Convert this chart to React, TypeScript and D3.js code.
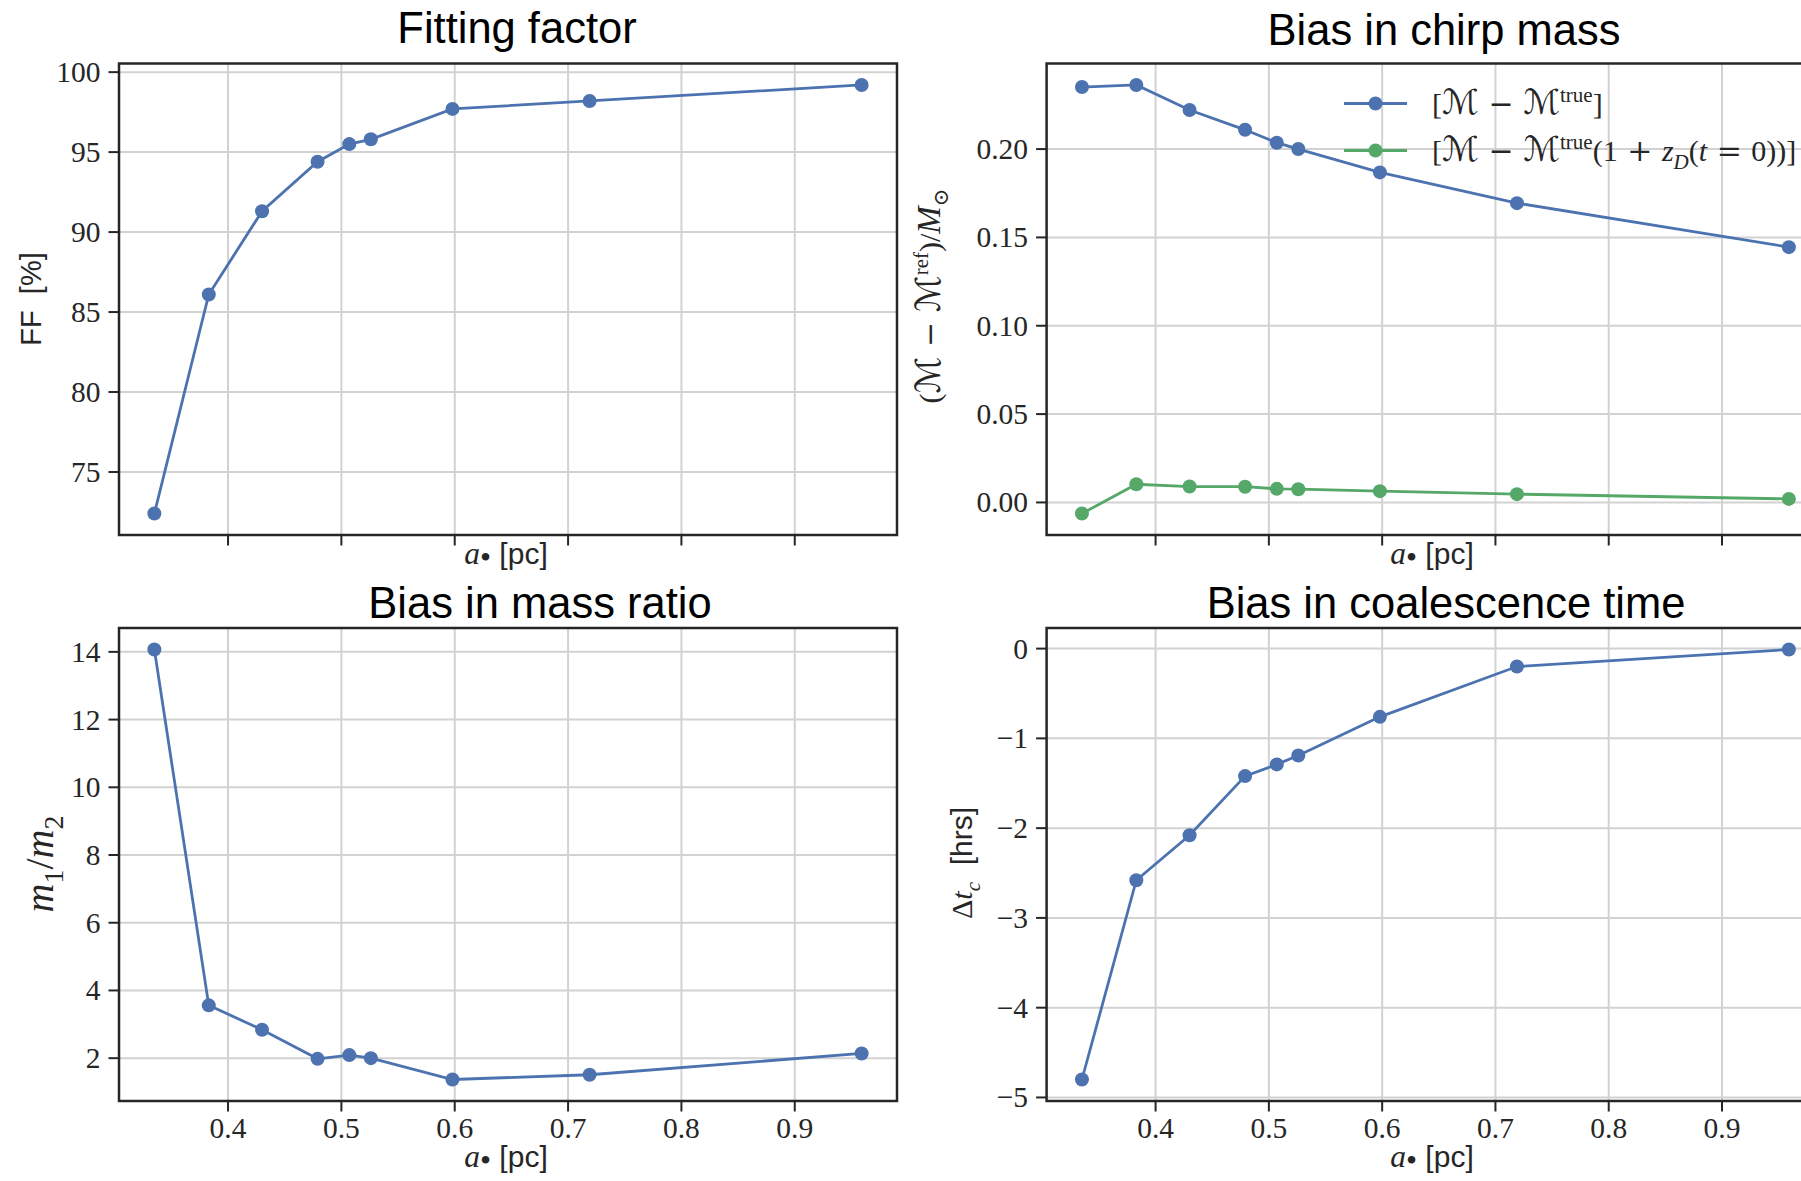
import React from 'react';
import * as d3 from 'd3';

// ---------- data ----------
const aPc = [0.335, 0.383, 0.430, 0.479, 0.507, 0.526, 0.598, 0.719, 0.959];
const fittingFactor = [72.4, 86.1, 91.3, 94.4, 95.5, 95.8, 97.7, 98.2, 99.2];
const chirpBias = [0.2351, 0.2363, 0.2221, 0.2109, 0.2036, 0.2000, 0.1868, 0.1694, 0.1445];
const chirpBiasRedshift = [-0.0063, 0.0103, 0.0090, 0.0089, 0.0077, 0.0075, 0.0064, 0.0047, 0.0020];
const massRatio = [14.07, 3.56, 2.84, 1.98, 2.09, 2.0, 1.37, 1.51, 2.14];
const tcBias = [-4.80, -2.58, -2.08, -1.42, -1.29, -1.19, -0.76, -0.20, -0.01];

const xTicks = [0.4, 0.5, 0.6, 0.7, 0.8, 0.9];
const ffTicks = [75, 80, 85, 90, 95, 100];
const chirpTicks = [0, 0.05, 0.1, 0.15, 0.2];
const ratioTicks = [2, 4, 6, 8, 10, 12, 14];
const tcTicks = [0, -1, -2, -3, -4, -5];

const titles = ['Fitting factor', 'Bias in chirp mass', 'Bias in mass ratio', 'Bias in coalescence time'];

// ---------- style ----------
const BLUE = '#4C72B0';
const GREEN = '#55A868';
const DARK = '#262626';
const GRID = '#d2d2d2';
const SERIF = "'Liberation Serif', 'Times New Roman', serif";
const SANS = "'Liberation Sans', Arial, Helvetica, sans-serif";
const CAL = "'DejaVu Serif', 'DejaVu Sans', serif";

type Seg = { t: string; f?: 'rm' | 'it' | 'sf' | 'cal' | 'op'; s?: 'sup' | 'sub'; k?: number; d?: number };

function famOf(f?: string) {
  if (f === 'sf') return SANS;
  if (f === 'cal' || f === 'op') return CAL;
  return SERIF;
}

function Rich({ segs, size, ...rest }: { segs: Seg[]; size: number; [k: string]: any }) {
  let cur = 0;
  return (
    <text fontSize={size} fill={DARK} {...rest}>
      {segs.map((s, i) => {
        const target =
          s.d !== undefined ? size * s.d : s.s === 'sup' ? -size * 0.4 : s.s === 'sub' ? size * 0.25 : 0;
        const dy = target - cur;
        cur = target;
        const fs = s.s ? size * (s.k ?? 0.7) : size * (s.k ?? 1);
        return (
          <tspan
            key={i}
            dy={dy}
            fontFamily={famOf(s.f)}
            fontStyle={s.f === 'it' ? 'italic' : 'normal'}
            fontSize={fs}
            style={{ whiteSpace: 'pre' }}
          >
            {s.t}
          </tspan>
        );
      })}
    </text>
  );
}

function pad(vals: number[]) {
  const [lo, hi] = d3.extent(vals) as [number, number];
  const m = (hi - lo) * 0.05;
  return [lo - m, hi + m];
}

type Series = { y: number[]; color: string };

function Panel(props: {
  x0: number; x1: number; y0: number; y1: number;
  series: Series[]; yTicks: number[]; yFmt: (v: number) => string;
  showXLabels: boolean;
}) {
  const { x0, x1, y0, y1, series, yTicks, yFmt, showXLabels } = props;
  const x = d3.scaleLinear().domain(pad(aPc)).range([x0, x1]);
  const allY = series.flatMap((s) => s.y);
  const y = d3.scaleLinear().domain(pad(allY)).range([y1, y0]);
  const line = d3.line<number>().x((_, i) => x(aPc[i])).y((v) => y(v));
  const tickLen = 10.5;
  return (
    <g>
      {xTicks.map((t) => (
        <line key={'gx' + t} x1={x(t)} x2={x(t)} y1={y0} y2={y1} stroke={GRID} strokeWidth={2} />
      ))}
      {yTicks.map((t) => (
        <line key={'gy' + t} x1={x0} x2={x1} y1={y(t)} y2={y(t)} stroke={GRID} strokeWidth={2} />
      ))}
      {series.map((s, si) => (
        <g key={si}>
          <path d={line(s.y) || ''} fill="none" stroke={s.color} strokeWidth={2.8} />
          {s.y.map((v, i) => (
            <circle key={i} cx={x(aPc[i])} cy={y(v)} r={7} fill={s.color} />
          ))}
        </g>
      ))}
      <rect x={x0} y={y0} width={x1 - x0} height={y1 - y0} fill="none" stroke={DARK} strokeWidth={2.5} />
      {xTicks.map((t) => (
        <g key={'tx' + t}>
          <line x1={x(t)} x2={x(t)} y1={y1} y2={y1 + tickLen} stroke={DARK} strokeWidth={2} />
          {showXLabels && (
            <text x={x(t)} y={y1 + 37} textAnchor="middle" fontFamily={SERIF} fontSize={29.5} fill={DARK}>
              {d3.format('.1f')(t)}
            </text>
          )}
        </g>
      ))}
      {yTicks.map((t) => (
        <g key={'ty' + t}>
          <line x1={x0 - tickLen} x2={x0} y1={y(t)} y2={y(t)} stroke={DARK} strokeWidth={2} />
          <text x={x0 - 18.5} y={y(t) + 10} textAnchor="end" fontFamily={SERIF} fontSize={29.5} fill={DARK}>
            {yFmt(t)}
          </text>
        </g>
      ))}
    </g>
  );
}

const minusFmt = (v: number) => (v < 0 ? '\u2212' + String(Math.abs(v)) : String(v));

function XLabel({ cx, y }: { cx: number; y: number }) {
  return (
    <Rich
      size={30}
      x={cx}
      y={y}
      textAnchor="middle"
      segs={[
        { t: 'a', f: 'it', k: 1.05 },
        { t: '\u2022', f: 'rm', s: 'sub', k: 1.05, d: 0.14 },
        { t: ' [pc]', f: 'sf' },
      ]}
    />
  );
}

export default function App() {
  const L = { x0: 119, x1: 897 };
  const R = { x0: 1046.6, x1: 1824.2 };
  const T = { y0: 63.5, y1: 535 };
  const B = { y0: 628, y1: 1101 };
  return (
    <svg width={1801} height={1181} style={{ display: 'block', position: 'absolute', left: 0, top: 0, background: '#fff' }}>
      <rect x={0} y={0} width={1801} height={1181} fill="#fff" />
      <Panel {...L} {...T} series={[{ y: fittingFactor, color: BLUE }]} yTicks={ffTicks} yFmt={(v) => String(v)} showXLabels={false} />
      <Panel
        {...R}
        {...T}
        series={[
          { y: chirpBias, color: BLUE },
          { y: chirpBiasRedshift, color: GREEN },
        ]}
        yTicks={chirpTicks}
        yFmt={(v) => d3.format('.2f')(v)}
        showXLabels={false}
      />
      <Panel {...L} {...B} series={[{ y: massRatio, color: BLUE }]} yTicks={ratioTicks} yFmt={(v) => String(v)} showXLabels={true} />
      <Panel {...R} {...B} series={[{ y: tcBias, color: BLUE }]} yTicks={tcTicks} yFmt={minusFmt} showXLabels={true} />

      {/* titles */}
      <text x={517} y={43} textAnchor="middle" fontFamily={SANS} fontSize={43.5} fill="#000">{titles[0]}</text>
      <text x={1444} y={45} textAnchor="middle" fontFamily={SANS} fontSize={43.5} fill="#000">{titles[1]}</text>
      <text x={540} y={618} textAnchor="middle" fontFamily={SANS} fontSize={43.5} fill="#000">{titles[2]}</text>
      <text x={1446} y={618} textAnchor="middle" fontFamily={SANS} fontSize={43.5} fill="#000">{titles[3]}</text>

      {/* x labels */}
      <XLabel cx={506} y={564} />
      <XLabel cx={1432} y={564} />
      <XLabel cx={506} y={1167} />
      <XLabel cx={1432} y={1167} />

      {/* y labels */}
      <text transform="translate(41,299) rotate(-90)" textAnchor="middle" fontFamily={SANS} fontSize={29} fill={DARK} style={{ whiteSpace: 'pre' }}>
        {'FF  [%]'}
      </text>
      <Rich
        size={30}
        transform="translate(940,296) rotate(-90)"
        textAnchor="middle"
        segs={[
          { t: '(', f: 'rm' },
          { t: '\u2133', f: 'cal', k: 1.15 },
          { t: ' \u2212 ', f: 'op' },
          { t: '\u2133', f: 'cal', k: 1.15 },
          { t: 'ref', f: 'rm', s: 'sup' },
          { t: ')/', f: 'rm' },
          { t: 'M', f: 'it', k: 1.1 },
          { t: '\u2299', f: 'op', s: 'sub' },
        ]}
      />
      <Rich
        size={40}
        transform="translate(53,864) rotate(-90)"
        textAnchor="middle"
        segs={[
          { t: 'm', f: 'it' },
          { t: '1', f: 'rm', s: 'sub' },
          { t: '/', f: 'rm' },
          { t: 'm', f: 'it' },
          { t: '2', f: 'rm', s: 'sub' },
        ]}
      />
      <Rich
        size={30}
        transform="translate(972,863) rotate(-90)"
        textAnchor="middle"
        segs={[
          { t: '\u0394', f: 'rm' },
          { t: 't', f: 'it' },
          { t: 'c', f: 'it', s: 'sub' },
          { t: '  [hrs]', f: 'sf' },
        ]}
      />

      {/* legend */}
      {[BLUE, GREEN].map((c, i) => {
        const ly = 103.5 + i * 47;
        return (
          <g key={i}>
            <line x1={1344} x2={1407} y1={ly} y2={ly} stroke={c} strokeWidth={2.8} />
            <circle cx={1375.5} cy={ly} r={7} fill={c} />
          </g>
        );
      })}
      <Rich
        size={30}
        x={1432}
        y={114}
        segs={[
          { t: '[', f: 'rm' },
          { t: '\u2133', f: 'cal', k: 1.15 },
          { t: ' \u2212 ', f: 'op' },
          { t: '\u2133', f: 'cal', k: 1.15 },
          { t: 'true', f: 'rm', s: 'sup' },
          { t: ']', f: 'rm' },
        ]}
      />
      <Rich
        size={30}
        x={1432}
        y={161}
        segs={[
          { t: '[', f: 'rm' },
          { t: '\u2133', f: 'cal', k: 1.15 },
          { t: ' \u2212 ', f: 'op' },
          { t: '\u2133', f: 'cal', k: 1.15 },
          { t: 'true', f: 'rm', s: 'sup' },
          { t: '(1', f: 'rm' },
          { t: ' + ', f: 'op' },
          { t: 'z', f: 'it' },
          { t: 'D', f: 'it', s: 'sub' },
          { t: '(', f: 'rm' },
          { t: 't', f: 'it' },
          { t: ' = ', f: 'op' },
          { t: '0))]', f: 'rm' },
        ]}
      />
    </svg>
  );
}
